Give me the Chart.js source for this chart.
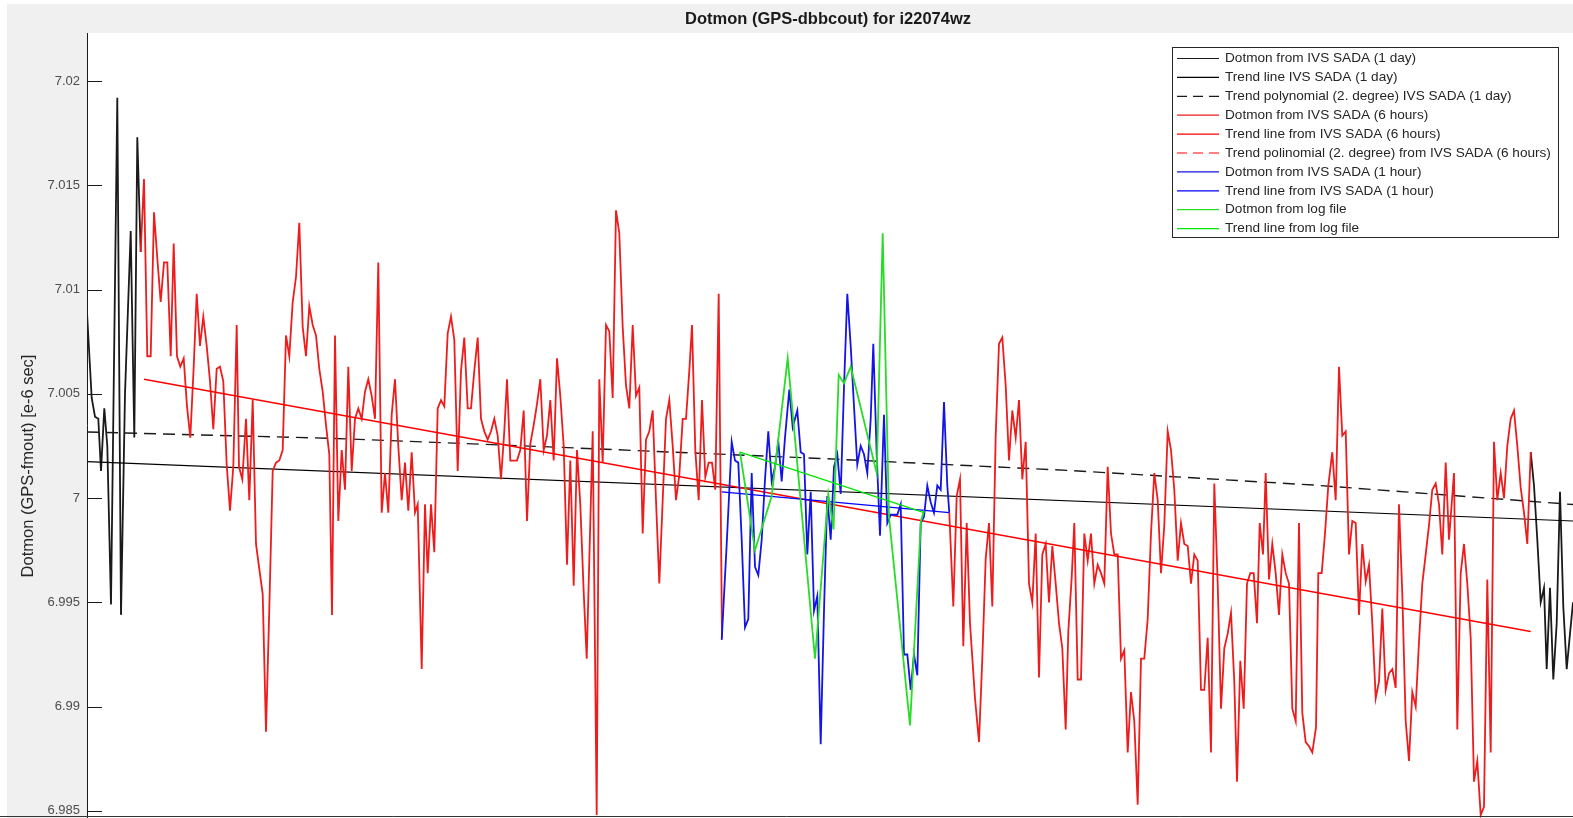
<!DOCTYPE html>
<html>
<head>
<meta charset="utf-8">
<title>Dotmon (GPS-dbbcout) for i22074wz</title>
<script src="https://cdn.jsdelivr.net/npm/chart.js@4.4.1/dist/chart.umd.min.js"></script>
<style>
  html, body { margin: 0; padding: 0; background: #fff; overflow: hidden; }
  #wrap { width: 1573px; height: 818px; }
</style>
</head>
<body>
<div id="wrap"><canvas id="grafico" width="1573" height="818"></canvas></div>
<script>
// valores: [tempo, dotmon]
const sada1d = [
  [0, 7.0089], [4.7, 7.0048], [8, 7.0039], [11.3, 7.0038], [14, 7.0013], [17.3, 7.0043],
  [20.3, 7.0025], [24, 6.9949], [30.3, 7.0192], [34, 6.9944], [38, 7.0050], [43.7, 7.0128],
  [47.3, 7.0029], [50.3, 7.0173], [53.7, 7.0118],
  [750, null],
  [1443.7, 7.0022], [1447, 7.0006], [1450.3, 6.9980], [1453.7, 6.9950], [1457, 6.9957],
  [1459.7, 6.9918], [1463, 6.9957], [1466.3, 6.9913], [1469.7, 6.9940], [1473, 7.0003],
  [1476.3, 6.9948], [1479.7, 6.9918], [1483, 6.9935], [1486, 6.9950]
];
const trend1d = [[0, 7.00175], [1486, 6.9989]];
const poly1d = [[0, 7.00317], [248, 7.00286], [490, 7.0024], [733, 7.0019], [980, 7.00133], [1228, 7.00062], [1486, 6.99969]];

const sada6h = [
  [53.7, 7.0118], [57, 7.0153], [60.3, 7.0068], [63.7, 7.0068], [67, 7.0137], [70.3, 7.0115],
  [73.7, 7.0094], [77, 7.0113], [80.3, 7.0113], [83.7, 7.0068], [86.7, 7.0122], [90, 7.0068],
  [93.3, 7.0063], [96.7, 7.0067], [100, 7.0044], [103.3, 7.0029], [106.7, 7.0063], [109.7, 7.0098],
  [113, 7.0073], [116.3, 7.0087], [119.7, 7.0073], [123, 7.0056], [126.3, 7.0033], [129.7, 7.0062],
  [133, 7.0063], [136.3, 7.0056], [139.7, 7.0016], [143, 6.9994], [146.3, 7.0015], [149.7, 7.0083],
  [152, 7.0015], [155.3, 7.0009], [159, 7.0038], [162.3, 6.9999], [165.7, 7.0047], [169, 6.9978],
  [172.3, 6.9966], [175.7, 6.9954], [179, 6.9888], [182.3, 6.9947], [185.7, 7.0013], [189, 7.0017],
  [192.3, 7.0018], [195.7, 7.0023], [199, 7.0078], [202.3, 7.0068], [205.7, 7.0094], [209, 7.0106],
  [212.3, 7.0132], [215.7, 7.0082], [219, 7.0068], [222.3, 7.0092], [225.7, 7.0083], [229, 7.0078],
  [232.3, 7.0062], [235.7, 7.0051], [239, 7.0035], [242.3, 7.0021], [245, 6.9944], [248, 7.0078],
  [251.3, 6.9989], [254.7, 7.0023], [258, 7.0004], [261.3, 7.0063], [264.7, 7.0013], [268, 7.0038],
  [271.3, 7.0043], [274.7, 7.0038], [278, 7.0051], [281.3, 7.0057], [284.7, 7.0049], [288, 7.0038],
  [291.3, 7.0113], [294.7, 6.9993], [298, 7.0012], [301.3, 6.9993], [304.7, 7.0040], [308, 7.0057],
  [311.3, 7.0025], [314.7, 6.9999], [318, 7.0017], [321.3, 6.9994], [324.7, 7.0022], [328, 6.9993],
  [330.7, 6.9997], [334.7, 6.9918], [338, 6.9997], [340.7, 6.9964], [344, 6.9997], [347.3, 6.9974],
  [350.7, 7.0043], [354, 7.0047], [357.3, 7.0044], [360.7, 7.0079], [364, 7.0087], [367.3, 7.0076],
  [370.7, 7.0013], [374, 7.0061], [377.3, 7.0077], [380.7, 7.0043], [384, 7.0043], [387.3, 7.0061],
  [390.7, 7.0077], [394, 7.0038], [397.3, 7.0032], [400.7, 7.0028], [404, 7.0032], [407.3, 7.0038],
  [410.7, 7.0030], [414, 7.0009], [417.3, 7.0032], [420, 7.0057], [423.3, 7.0018], [426.7, 7.0018],
  [430, 7.0018], [433.3, 7.0023], [436.7, 7.0042], [440, 6.9989], [443.3, 7.0026], [446.7, 7.0035],
  [450, 7.0045], [453.3, 7.0057], [456.7, 7.0023], [460, 7.0030], [463.3, 7.0047], [466.7, 7.0018],
  [470, 7.0067], [473.3, 7.0049], [476.7, 7.0025], [480, 6.9968], [483.3, 7.0018], [486.7, 6.9958],
  [490, 7.0023], [493.3, 6.9997], [496.7, 6.9955], [499.7, 6.9923], [505.7, 7.0032], [509.7, 6.9848],
  [512.3, 7.0057], [515.7, 7.0017], [519, 7.0083], [522.3, 7.0080], [525.7, 7.0048], [529, 7.0138],
  [532.3, 7.0127], [535.7, 7.0082], [539, 7.0054], [542.3, 7.0043], [545.7, 7.0083], [549, 7.0049],
  [552.3, 7.0053], [555.7, 6.9983], [559, 7.0028], [562.3, 7.0032], [565.7, 7.0042], [569, 6.9999],
  [572.3, 6.9959], [575.7, 6.9999], [579, 7.0038], [582.3, 7.0047], [585.7, 7.0025], [589, 6.9999],
  [592.3, 7.0011], [595.7, 7.0038], [599, 7.0038], [602.3, 7.0061], [605, 7.0083], [608.3, 7.0023],
  [611.7, 6.9999], [615, 7.0047], [618.3, 7.0010], [621.7, 7.0017], [625, 7.0017], [628.3, 7.0004],
  [631.7, 7.0098], [635, 6.9933],
  [748, null],
  [862.3, 6.9993], [866.3, 6.9948], [869.7, 7.0001], [873, 7.0009], [876.3, 6.9929], [879.7, 6.9988],
  [883, 6.9940], [888, 6.9904], [892, 6.9883], [895.3, 6.9923], [898.7, 6.9971], [902, 6.9988],
  [905.3, 6.9948], [908.7, 7.0030], [912, 7.0074], [915.3, 7.0077], [918.7, 7.0054], [922, 7.0018],
  [925.3, 7.0042], [928.7, 7.0029], [932, 7.0047], [935.3, 7.0009], [938.7, 7.0027], [942, 6.9959],
  [945.3, 6.9950], [948.7, 6.9983], [952, 6.9914], [955.3, 6.9973], [958.7, 6.9978], [962, 6.9950],
  [965.3, 6.9977], [968.7, 6.9959], [972, 6.9940], [975.3, 6.9928], [978.7, 6.9889], [981.3, 6.9936],
  [984.7, 6.9962], [987.3, 6.9988], [990.7, 6.9913], [994, 6.9913], [997.3, 6.9983], [1000.7, 6.9970],
  [1004, 6.9983], [1007.3, 6.9959], [1010.7, 6.9968], [1014, 6.9964], [1017.3, 6.9959], [1020.7, 7.0015],
  [1024, 6.9983], [1027.3, 6.9973], [1030.7, 6.9973], [1034, 6.9923], [1037.3, 6.9927], [1040.7, 6.9878],
  [1044, 6.9907], [1047.3, 6.9893], [1050.7, 6.9853], [1054, 6.9923], [1057.3, 6.9923], [1060.7, 6.9942],
  [1064, 6.9983], [1067.3, 7.0012], [1070.7, 6.9999], [1074, 6.9964], [1077.3, 6.9987], [1080.7, 7.0032],
  [1084, 7.0023], [1087.3, 7.0004], [1090.7, 6.9970], [1094, 6.9988], [1097.3, 6.9978], [1100.7, 6.9977],
  [1104, 6.9959], [1107.3, 6.9973], [1110.7, 6.9970], [1114, 6.9908], [1117.3, 6.9908], [1120.7, 6.9933],
  [1124, 6.9878], [1127.3, 7.0007], [1130.7, 6.9959], [1134, 6.9899], [1137.3, 6.9928], [1140.7, 6.9935],
  [1144, 6.9945], [1147.3, 6.9912], [1150, 6.9864], [1153.3, 6.9922], [1156.7, 6.9899], [1160, 6.9959],
  [1163.3, 6.9964], [1166.7, 6.9964], [1170, 6.9940], [1172.7, 6.9988], [1176, 6.9973], [1178.7, 7.0012],
  [1182, 6.9961], [1185.3, 6.9978], [1188.7, 6.9964], [1192, 6.9944], [1195.3, 6.9973], [1198.7, 6.9964],
  [1202, 6.9959], [1205.3, 6.9899], [1208.7, 6.9893], [1212, 6.9988], [1215.3, 6.9897], [1218.7, 6.9883],
  [1222, 6.9881], [1225.3, 6.9878], [1229, 6.9890], [1231.3, 6.9964], [1234.7, 6.9964], [1238, 6.9983],
  [1241.3, 7.0006], [1245.3, 7.0022], [1248.7, 6.9999], [1252, 7.0063], [1255.3, 7.0030], [1258.7, 7.0032],
  [1262, 6.9973], [1265.3, 6.9989], [1268.7, 6.9988], [1272, 6.9944], [1275.3, 6.9978], [1278.7, 6.9960],
  [1282, 6.9968], [1285.3, 6.9940], [1288.7, 6.9904], [1292, 6.9912], [1295.3, 6.9947], [1298.7, 6.9908],
  [1302, 6.9916], [1305.3, 6.9918], [1308.7, 6.9909], [1312, 6.9997], [1315.3, 6.9954], [1318.7, 6.9893],
  [1322, 6.9874], [1325.3, 6.9907], [1328.7, 6.9900], [1332, 6.9931], [1335.3, 6.9959], [1338.7, 6.9973],
  [1342, 6.9987], [1345.3, 7.0004], [1348.7, 7.0007], [1352, 6.9997], [1355.3, 6.9973], [1358.7, 7.0017],
  [1362, 6.9980], [1367, 7.0012], [1370.3, 6.9889], [1373.7, 6.9964], [1377, 6.9978], [1380.3, 6.9959],
  [1383.7, 6.9933], [1387, 6.9864], [1390.3, 6.9874], [1393.7, 6.9848], [1397, 6.9852], [1400.3, 6.9961],
  [1403.7, 6.9878], [1407, 7.0027], [1410.3, 6.9999], [1413.7, 7.0012], [1417, 7.0000], [1420.3, 7.0025],
  [1423.7, 7.0038], [1427, 7.0042], [1430.3, 7.0025], [1433.7, 7.0005], [1437, 6.9993], [1440.3, 6.9978],
  [1443.7, 7.0022]
];
const trend6h = [[57, 7.0057], [1443.7, 6.9936]];
const poly6h = [];

const sada1h = [
  [634.7, 6.9932], [639.7, 6.9978], [644.7, 7.0027], [648, 7.0018], [651.3, 7.0017], [654.7, 6.9980],
  [658, 6.9938], [661.3, 6.9942], [664.7, 7.0012], [668, 6.9967], [671.3, 6.9963], [674.7, 6.9980],
  [678, 7.0009], [681.3, 7.0032], [684.7, 7.0008], [688, 7.0015], [691.3, 7.0027], [694.7, 7.0008],
  [698, 7.0029], [702.3, 7.0052], [705.7, 7.0034], [710.3, 7.0042], [713.7, 7.0022], [717, 7.0021],
  [720.3, 6.9973], [723.7, 7.0003], [727, 6.9946], [730.3, 6.9953], [733.7, 6.9882], [737, 6.9946],
  [740.3, 7.0001], [743.7, 6.9980], [747, 7.0015], [750.3, 7.0021], [753.7, 7.0002], [757, 7.0053],
  [760.3, 7.0098], [763.7, 7.0073], [767, 7.0044], [770.3, 7.0016], [773.7, 7.0025], [777, 7.0021],
  [780.3, 7.0012], [783.7, 7.0038], [786.3, 7.0074], [789.7, 7.0021], [793, 6.9982], [797, 7.0040],
  [800.3, 6.9988], [803.7, 6.9992], [807, 6.9992], [810.3, 6.9992], [813.7, 6.9997], [817, 6.9925],
  [820.3, 6.9925], [823.7, 6.9908], [827, 6.9925], [830.3, 6.9915], [833.7, 6.9988], [837, 6.9991],
  [840.3, 7.0006], [843.7, 6.9998], [847, 6.9993], [850.3, 7.0006], [853.7, 7.0004], [857, 7.0046],
  [860.3, 7.0006], [862.3, 6.9993]
];
const trend1h = [[634.7, 7.0003], [862.3, 6.9993]];

const logFile = [
  [653, 7.0022], [668, 6.9975], [684.7, 7.0001], [700.7, 7.0067], [728, 6.9923], [741.3, 7.0002],
  [746.5, 6.9985], [751.7, 7.0059], [757, 7.0055], [763.7, 7.0063], [789.7, 7.0012], [795.7, 7.0127],
  [802, 6.9991], [823, 6.9891], [834, 6.9989], [837, 6.9994]
];
const trendLog = [[653, 7.0022], [837, 6.9993]];

const yTicks = [6.985, 6.99, 6.995, 7, 7.005, 7.01, 7.015, 7.02];

const fonte = '"Liberation Sans", Arial, sans-serif';

function pontos(lista) {
  return lista.map(p => ({ x: p[0], y: p[1] }));
}

function serie(label, lista, cor, largura, tracejado, ordem) {
  return {
    label: label,
    data: pontos(lista),
    borderColor: cor,
    backgroundColor: cor,
    borderWidth: largura,
    borderDash: tracejado ? [12, 7] : [],
    pointRadius: 0,
    tension: 0,
    spanGaps: false,
    fill: false,
    order: ordem
  };
}

const datasets = [
  serie('Dotmon from IVS SADA (1 day)', sada1d, '#1a1a1a', 1.8, false, 10),
  serie('Trend line IVS SADA (1 day)', trend1d, '#000000', 1.2, false, 9),
  serie('Trend polynomial (2. degree) IVS SADA (1 day)', poly1d, '#1a1a1a', 1.4, true, 8),
  serie('Dotmon from IVS SADA (6 hours)', sada6h, '#ee1c1c', 1.8, false, 7),
  serie('Trend line from IVS SADA (6 hours)', trend6h, '#ff0000', 1.4, false, 6),
  serie('Trend polinomial (2. degree) from IVS SADA (6 hours)', poly6h, '#ff0000', 1.3, true, 5),
  serie('Dotmon from IVS SADA (1 hour)', sada1h, '#1414e6', 1.8, false, 4),
  serie('Trend line from IVS SADA (1 hour)', trend1h, '#0000ff', 1.3, false, 3),
  serie('Dotmon from log file', logFile, '#28dc28', 1.8, false, 2),
  serie('Trend line from log file', trendLog, '#00e600', 1.3, false, 1)
];

// fundo cinza tipo matlab
const fundo = {
  id: 'fundo',
  beforeDraw(chart) {
    const c = chart.ctx, a = chart.chartArea;
    c.save();
    c.fillStyle = '#ffffff';
    c.fillRect(0, 0, chart.width, chart.height);
    c.fillStyle = '#f0f0f0';
    c.fillRect(7, 4, chart.width - 7, chart.height - 4);
    c.fillStyle = '#ffffff';
    c.fillRect(a.left, a.top, a.right - a.left, a.bottom - a.top);
    c.restore();
  }
};

// eixo, ticks para dentro, titulos e legenda
const extras = {
  id: 'extras',
  afterDraw(chart) {
    const c = chart.ctx, a = chart.chartArea, ys = chart.scales.y;
    c.save();
    c.strokeStyle = '#1a1a1a';
    c.lineWidth = 1;
    c.beginPath();
    c.moveTo(a.left + 0.5, a.top);
    c.lineTo(a.left + 0.5, a.bottom);
    yTicks.forEach(v => {
      const py = Math.round(ys.getPixelForValue(v)) + 0.5;
      c.moveTo(a.left, py);
      c.lineTo(a.left + 15, py);
    });
    c.stroke();

    c.fillStyle = '#4d4d4d';
    c.font = '13px ' + fonte;
    c.textAlign = 'right';
    c.textBaseline = 'middle';
    yTicks.forEach(v => {
      c.fillText(String(parseFloat(v.toFixed(3))), a.left - 7, ys.getPixelForValue(v));
    });

    c.strokeStyle = '#333333';
    c.beginPath();
    c.moveTo(0, chart.height - 1.5);
    c.lineTo(chart.width, chart.height - 1.5);
    c.stroke();

    c.fillStyle = '#1a1a1a';
    c.font = 'bold 16.5px ' + fonte;
    c.textAlign = 'center';
    c.fillText('Dotmon (GPS-dbbcout) for i22074wz', 828, 19);

    c.translate(28, 466);
    c.rotate(-Math.PI / 2);
    c.font = '16.5px ' + fonte;
    c.fillStyle = '#262626';
    c.fillText('Dotmon (GPS-fmout) [e-6 sec]', 0, 0);
    c.restore();

    // legenda
    c.save();
    const bx = 1172.5, by = 47.5, bw = 386, bh = 190;
    c.fillStyle = '#ffffff';
    c.fillRect(bx, by, bw, bh);
    c.strokeStyle = '#262626';
    c.lineWidth = 1;
    c.strokeRect(bx, by, bw, bh);
    c.font = '13.6px ' + fonte;
    c.textAlign = 'left';
    c.textBaseline = 'middle';
    chart.data.datasets.forEach((ds, i) => {
      const y = 58.5 + i * 18.9;
      c.strokeStyle = ds.borderColor;
      c.lineWidth = 1.2;
      c.setLineDash(ds.borderDash.length ? [10, 6] : []);
      c.beginPath();
      c.moveTo(1177, y);
      c.lineTo(1219, y);
      c.stroke();
      c.setLineDash([]);
      c.fillStyle = '#262626';
      c.fillText(ds.label, 1225, y);
    });
    c.restore();
  }
};

const ctx = document.getElementById('grafico').getContext('2d');
const chart = new Chart(ctx, {
  type: 'line',
  data: { datasets: datasets },
  options: {
    responsive: false,
    animation: false,
    devicePixelRatio: 1,
    layout: { padding: { top: 33, left: 0, right: 0, bottom: 0 } },
    plugins: {
      legend: { display: false },
      tooltip: { enabled: false }
    },
    scales: {
      x: {
        type: 'linear',
        min: 0,
        max: 1486,
        display: false
      },
      y: {
        type: 'linear',
        min: 6.98466,
        max: 7.0223,
        afterFit(scale) { scale.width = 87; },
        afterBuildTicks(scale) { scale.ticks = yTicks.map(v => ({ value: v })); },
        ticks: { display: false },
        grid: { drawOnChartArea: false, drawTicks: false },
        border: { display: false }
      }
    }
  },
  plugins: [fundo, extras]
});
</script>
</body>
</html>
